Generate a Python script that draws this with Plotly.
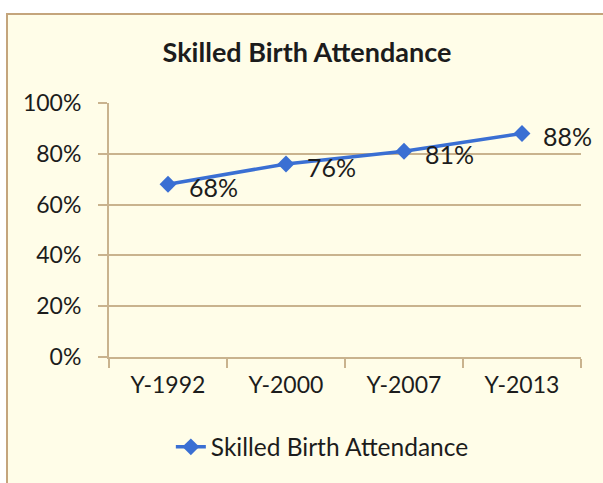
import plotly.graph_objects as go

years = ["Y-1992", "Y-2000", "Y-2007", "Y-2013"]
attendance = [0.68, 0.76, 0.81, 0.88]
labels = ["68%", "76%", "81%", "88%"]
series_name = "Skilled Birth Attendance"

cream = "#FFFDE8"
tan = "#C4A57C"
grid = "#C9B38E"
blue = "#3A6FD3"
ink = "#1C1C1C"
font = "Lato"

fig = go.Figure()
fig.add_trace(go.Scatter(
    x=years, y=attendance, mode="lines+markers",
    name=series_name,
    line=dict(color=blue, width=3.5),
    marker=dict(symbol="diamond", size=13, color=blue),
    cliponaxis=False,
))

# data labels, right of each point
for yr, val, lab in zip(years, attendance, labels):
    fig.add_annotation(x=yr, y=val, text=lab, showarrow=False,
                       xanchor="left", yanchor="middle", xshift=19, yshift=-3,
                       font=dict(family=font, size=25, color=ink))

# chart frame (cream area with tan border, extending past right/bottom edge)
fig.add_shape(type="rect", xref="paper", yref="paper",
              x0=-0.2161, x1=1.12, y0=-0.75, y1=1.3504,
              fillcolor=cream, line=dict(color=tan, width=2), layer="below")

fig.update_layout(
    width=603, height=483,
    margin=dict(l=109, r=22, t=103, b=126),
    paper_bgcolor="white", plot_bgcolor="rgba(0,0,0,0)",
    font=dict(family=font, size=23, color=ink),
    title=dict(text="<b>Skilled Birth Attendance</b>", x=307 / 603, xref="container",
               xanchor="center", y=1 - 53 / 483, yref="container", yanchor="middle",
               font=dict(family=font, size=27, color=ink)),
    showlegend=True,
    legend=dict(orientation="h", x=0.452, xanchor="center", y=-0.354, yanchor="middle",
                bgcolor="rgba(0,0,0,0)", font=dict(family=font, size=24.5, color=ink)),
)

fig.update_xaxes(type="category", range=[-0.5, 3.5], showgrid=False,
                 showline=True, linecolor=grid, linewidth=2,
                 ticks="outside", tickson="boundaries", ticklen=9, tickcolor=grid,
                 tickwidth=2, ticklabelstandoff=6, tickfont=dict(size=23))
fig.update_yaxes(range=[0, 1], dtick=0.2, tickformat=".0%", showgrid=True,
                 gridcolor=grid, gridwidth=2, zeroline=False,
                 showline=True, linecolor=grid, linewidth=2,
                 ticks="outside", ticklen=9, tickcolor=grid, tickwidth=2,
                 ticklabelstandoff=12, tickfont=dict(size=23))

fig.write_html("out.html", config={"displayModeBar": False},
               post_script="document.body.style.margin = '0';")
